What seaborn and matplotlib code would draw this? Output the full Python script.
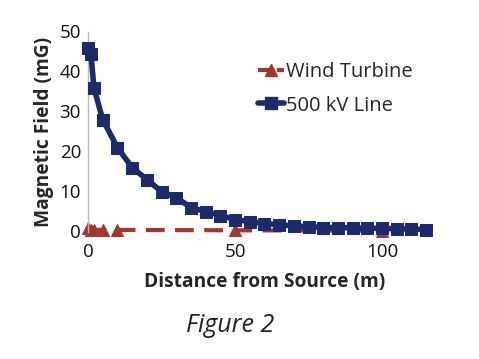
import matplotlib
matplotlib.use("Agg")
import matplotlib.pyplot as plt
import seaborn as sns
import pandas as pd
from matplotlib.lines import Line2D

sns.set_style("white")
plt.rcParams['font.family'] = ['Open Sans', 'DejaVu Sans']

# Data
line_x = [0, 1, 2, 5, 10, 15, 20, 25, 30, 35, 40, 45, 50, 55, 60, 65, 70,
          75, 80, 85, 90, 95, 100, 105, 110, 115]
line_y = [46, 44.5, 36, 28, 21, 16, 13, 10, 8.5, 6, 5, 4, 3, 2.5, 2, 1.7,
          1.4, 1.2, 1.0, 1.0, 0.9, 0.8, 0.8, 0.7, 0.6, 0.5]
turbine_x = [0, 1, 2, 5, 10, 50, 100]
turbine_y = [0.9, 0.5, 0.4, 0.4, 0.4, 0.3, 0.2]
series_names = ["Wind Turbine", "500 kV Line"]
x_ticks = [0, 50, 100]
y_ticks = [0, 10, 20, 30, 40, 50]

blue = "#1d2a6c"
red = "#a2372f"

fig = plt.figure(figsize=(4.79, 3.59), dpi=100)
ax = fig.add_axes([88/479, 1 - 231.5/359, 120*2.94/479, 200/359])

df_t = pd.DataFrame({"x": turbine_x, "y": turbine_y})
df_l = pd.DataFrame({"x": line_x, "y": line_y})

sns.lineplot(data=df_t, x="x", y="y", ax=ax, color=red, linewidth=3,
             marker="^", markersize=9, markeredgecolor=red, clip_on=False,
             zorder=2)
ax.lines[-1].set_dashes([4.5, 2.5])
sns.lineplot(data=df_l, x="x", y="y", ax=ax, color=blue, linewidth=4,
             marker="s", markersize=9, markeredgecolor=blue, clip_on=False,
             zorder=3)

ax.set_xlim(0, 120)
ax.set_ylim(0, 50)
ax.set_xticks(x_ticks)
ax.set_yticks(y_ticks)
ax.tick_params(axis='y', direction='in', length=4, color='#bbbbbb',
               labelsize=13.5, labelcolor='#111111', pad=5)
ax.tick_params(axis='x', length=0, labelsize=13.5, labelcolor='#111111', pad=8)
for s in ['top', 'right', 'bottom']:
    ax.spines[s].set_visible(False)
ax.spines['left'].set_color('#bbbbbb')
ax.spines['left'].set_linewidth(1)

ax.set_xlabel("Distance from Source (m)", fontsize=13.8, fontweight='bold',
              labelpad=8)
ax.set_ylabel("Magnetic Field (mG)", fontsize=13.8, fontweight='bold',
              labelpad=4)

handles = [
    Line2D([], [], color=red, linewidth=3, linestyle=(0, (3, 1.5)),
           marker="^", markersize=9),
    Line2D([], [], color=blue, linewidth=4, marker="s", markersize=9),
]
ax.legend(handles, series_names, loc='center left',
          bbox_to_anchor=(162/352.8, (231.5 - 89)/200), frameon=False,
          fontsize=14.5, handlelength=1.3, handletextpad=0.1,
          labelspacing=0.65, borderaxespad=0)

fig.text(230/479, 1 - 325/359, "Figure 2", fontsize=18, style='italic',
         color='#222222', ha='center', va='center')

fig.savefig("out.png", dpi=100)
